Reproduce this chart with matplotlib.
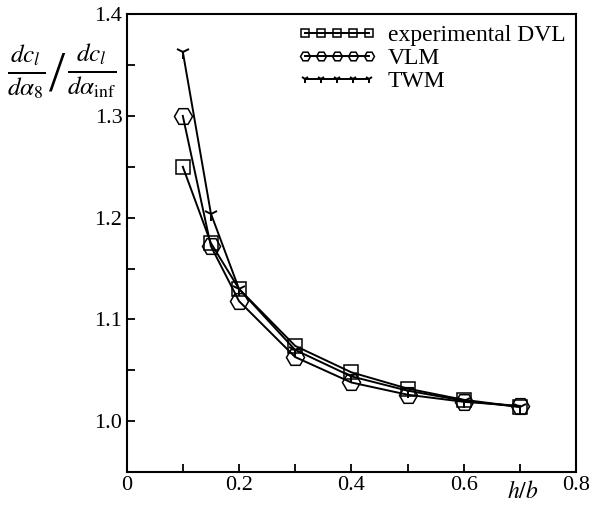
import matplotlib
matplotlib.use("Agg")
import matplotlib.pyplot as plt
import numpy as np

plt.rcParams['font.family'] = ['Liberation Serif', 'DejaVu Serif']
plt.rcParams['mathtext.fontset'] = 'stix'

h_b = [0.1, 0.15, 0.2, 0.3, 0.4, 0.5, 0.6, 0.7]
exp_dvl = [1.250, 1.175, 1.130, 1.074, 1.048, 1.032, 1.021, 1.014]
vlm = [1.300, 1.172, 1.118, 1.063, 1.038, 1.026, 1.019, 1.015]
twm = [1.363, 1.204, 1.130, 1.070, 1.044, 1.030, 1.020, 1.014]

fig = plt.figure(figsize=(5.89, 5.07), dpi=100)
ax = fig.add_axes([0.215, 0.069, 0.763, 0.903])

ax.plot(h_b, exp_dvl, color='black', lw=1.4, marker='s', ms=10, mfc='none', mec='black', mew=1.1,
        label='experimental DVL')
ax.plot(h_b, vlm, color='black', lw=1.4, marker='H', ms=13, mfc='none', mec='black', mew=1.1,
        label='VLM')
ax.plot(h_b, twm, color='black', lw=1.4, marker='1', ms=10, mec='black', mew=1.4,
        label='TWM')

ax.set_xlim(0, 0.8)
ax.set_ylim(0.95, 1.4)
ax.set_xticks([0, 0.2, 0.4, 0.6, 0.8])
ax.set_xticklabels(['0', '0.2', '0.4', '0.6', '0.8'])
ax.set_xticks(np.arange(0.1, 0.8, 0.2), minor=True)
ax.set_yticks([1.0, 1.1, 1.2, 1.3, 1.4])
ax.set_yticklabels(['1.0', '1.1', '1.2', '1.3', '1.4'])
ax.set_yticks([1.05, 1.15, 1.25, 1.35], minor=True)
ax.tick_params(which='both', direction='in', length=6, width=1.3, labelsize=16,
               top=False, right=False, pad=3)
for s in ax.spines.values():
    s.set_linewidth(1.5)

leg = ax.legend(loc='upper right', frameon=False, numpoints=5, handlelength=3.3,
                fontsize=17, markerscale=0.55, borderaxespad=0.05, labelspacing=0.05,
                handletextpad=0.5)

fig.text(0.888, 0.008, r'$h/b$', fontsize=17, ha='center', va='bottom')
fig.text(0.012, 0.86, r'$\frac{dc_l}{d\alpha_8}$', fontsize=26, ha='left', va='center')
fig.text(0.097, 0.85, '/', fontsize=42, ha='center', va='center', fontweight='light')
fig.text(0.114, 0.86, r'$\frac{dc_l}{d\alpha_{\mathrm{inf}}}$', fontsize=26, ha='left', va='center')

fig.savefig('out.png', dpi=100)
